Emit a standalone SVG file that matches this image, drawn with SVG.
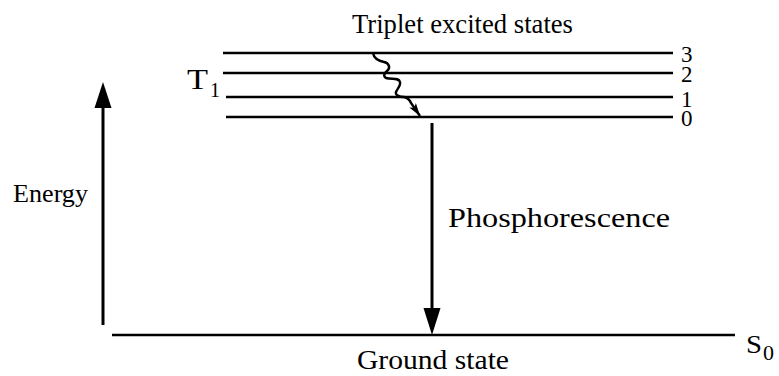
<svg xmlns="http://www.w3.org/2000/svg" width="779" height="376" viewBox="0 0 779 376">
<defs>
<style>
.lvl{stroke:#000;stroke-width:2.6;fill:none}
.ax{stroke:#000;stroke-width:3;fill:none}
.t{font-family:"Liberation Serif","Times New Roman",serif;fill:#000}
.ah{fill:#000}
</style>
<marker id="wv" viewBox="0 0 13 8" refX="13" refY="4" markerWidth="13" markerHeight="8" markerUnits="userSpaceOnUse" orient="auto">
<path d="M0,0 L13,4 L0,8 L3,4 Z" fill="#000"/>
</marker>
</defs>
<rect width="779" height="376" fill="#fff"/>
<g id="triplet-levels">
<line class="lvl" x1="223" y1="53" x2="673" y2="53"/>
<line class="lvl" x1="223" y1="73" x2="673" y2="73"/>
<line class="lvl" x1="226" y1="97" x2="673" y2="97"/>
<line class="lvl" x1="226" y1="117" x2="673" y2="117"/>
<text class="t" x="681" y="62" font-size="23">3</text>
<text class="t" x="681" y="82" font-size="23">2</text>
<text class="t" x="681" y="107" font-size="23">1</text>
<text class="t" x="681" y="126" font-size="23">0</text>
<text class="t" x="352" y="33" font-size="28" textLength="221" lengthAdjust="spacingAndGlyphs">Triplet excited states</text>
<text class="t" x="187" y="89" font-size="29" textLength="21" lengthAdjust="spacingAndGlyphs">T</text>
<text class="t" x="210" y="97" font-size="20">1</text>
</g>
<g id="ground">
<line class="lvl" x1="112" y1="335" x2="735" y2="335"/>
<text class="t" x="746" y="353" font-size="26" textLength="16" lengthAdjust="spacingAndGlyphs">S</text>
<text class="t" x="763" y="360" font-size="22">0</text>
<text class="t" x="357" y="369" font-size="27" textLength="152" lengthAdjust="spacingAndGlyphs">Ground state</text>
</g>
<g id="energy">
<line class="ax" x1="103" y1="325" x2="103" y2="104"/>
<polygon class="ah" points="103,82 111.5,108 94.5,108"/>
<text class="t" x="13" y="202" font-size="26" textLength="75" lengthAdjust="spacingAndGlyphs">Energy</text>
</g>
<g id="connectors">
<path d="M373,53 C374,59 379,61 384,62 C389,63 391,68 387,71 C383,74 383,78 389,78.5 C394,79 399,78 400,82 C401,86 397,89 396,92 C395,95 399,97 404,97 C408,98 410,100 411,103 L420,116" fill="none" stroke="#000" stroke-width="2.4" marker-end="url(#wv)"/>
<line class="ax" x1="432" y1="123" x2="432" y2="312"/>
<polygon class="ah" points="432,335 440.5,308 423.5,308"/>
<text class="t" x="448" y="227" font-size="28" textLength="222" lengthAdjust="spacingAndGlyphs">Phosphorescence</text>
</g>
</svg>
